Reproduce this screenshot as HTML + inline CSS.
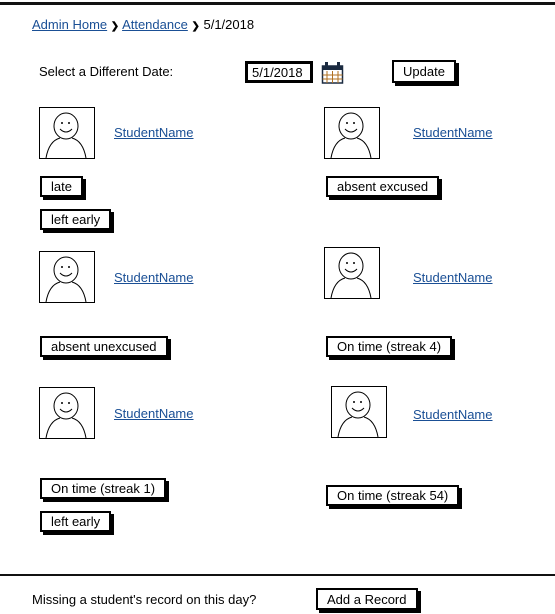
<!DOCTYPE html>
<html><head><meta charset="utf-8"><style>
body{margin:0;width:555px;height:614px;background:#fff;position:relative;overflow:hidden;font-family:"Liberation Sans",sans-serif;font-size:13px;color:#000}
.a{position:absolute;white-space:nowrap}
.lk{color:#1a4f95;text-decoration:underline}
.btn{position:absolute;border:2px solid #000;box-shadow:3px 3px 0 #000;background:#fff;box-sizing:border-box;font-size:13px;line-height:16px;padding:1px 9px 0 9px;white-space:nowrap;height:21px}
.av{position:absolute;width:56px;height:52px}
</style></head><body>
<div class="a" style="left:0;top:2px;width:555px;height:3px;background:#111"></div>
<div class="a" style="left:32px;top:17px"><span class="lk">Admin Home</span> <b style="font-size:10px">❯</b> <span class="lk">Attendance</span> <b style="font-size:10px">❯</b> 5/1/2018</div>
<div class="a" style="left:39px;top:64px">Select a Different Date:</div>
<div class="a" style="left:245px;top:61px;width:68px;height:22px;border:3px solid #000;box-sizing:border-box;padding:1px 0 0 4px">5/1/2018</div>
<svg class="a" style="left:321px;top:61px" width="23" height="24" viewBox="0 0 23 24"><rect x="1.5" y="5" width="20" height="17" fill="#fff" stroke="#1a2a40" stroke-width="1.5"/><rect x="1.5" y="5" width="20" height="4" fill="#1a2a40"/><path d="M6 10v12M11.5 10v12M17 10v12M1.5 14h20M1.5 18h20" stroke="#b07020" stroke-width="1"/><rect x="4" y="1" width="3" height="6" fill="#1a2a40"/><rect x="16" y="1" width="3" height="6" fill="#1a2a40"/></svg>
<div class="btn" style="left:392px;top:60px;height:23px;padding-top:2px">Update</div>

<svg width="0" height="0" style="position:absolute"><defs><g id="p"><rect x="0.5" y="0.5" width="55" height="51" fill="#fff" stroke="#000"/><ellipse cx="27" cy="19" rx="12" ry="13" fill="none" stroke="#000"/><circle cx="23" cy="16" r="1" fill="#000"/><circle cx="30" cy="16" r="1" fill="#000"/><path d="M21 22q6 6 12 0" fill="none" stroke="#000"/><path d="M7 51q3-17 14-20M47 51q-3-17-14-20" fill="none" stroke="#000"/></g></defs></svg>
<svg class="av" style="left:39px;top:107px"><use href="#p"/></svg>
<svg class="av" style="left:324px;top:107px"><use href="#p"/></svg>
<svg class="av" style="left:39px;top:251px"><use href="#p"/></svg>
<svg class="av" style="left:324px;top:247px"><use href="#p"/></svg>
<svg class="av" style="left:39px;top:387px"><use href="#p"/></svg>
<svg class="av" style="left:331px;top:386px"><use href="#p"/></svg>

<div class="a lk" style="left:114px;top:125px">StudentName</div>
<div class="a lk" style="left:413px;top:125px">StudentName</div>
<div class="a lk" style="left:114px;top:270px">StudentName</div>
<div class="a lk" style="left:413px;top:270px">StudentName</div>
<div class="a lk" style="left:114px;top:406px">StudentName</div>
<div class="a lk" style="left:413px;top:407px">StudentName</div>

<div class="btn" style="left:40px;top:176px">late</div>
<div class="btn" style="left:40px;top:209px">left early</div>
<div class="btn" style="left:326px;top:176px">absent excused</div>
<div class="btn" style="left:40px;top:336px">absent unexcused</div>
<div class="btn" style="left:326px;top:336px">On time (streak 4)</div>
<div class="btn" style="left:40px;top:478px">On time (streak 1)</div>
<div class="btn" style="left:40px;top:511px">left early</div>
<div class="btn" style="left:326px;top:485px">On time (streak 54)</div>

<div class="a" style="left:0;top:574px;width:555px;height:2px;background:#111"></div>
<div class="a" style="left:32px;top:592px">Missing a student's record on this day?</div>
<div class="btn" style="left:316px;top:588px;height:22px;padding-top:2px">Add a Record</div>
</body></html>
